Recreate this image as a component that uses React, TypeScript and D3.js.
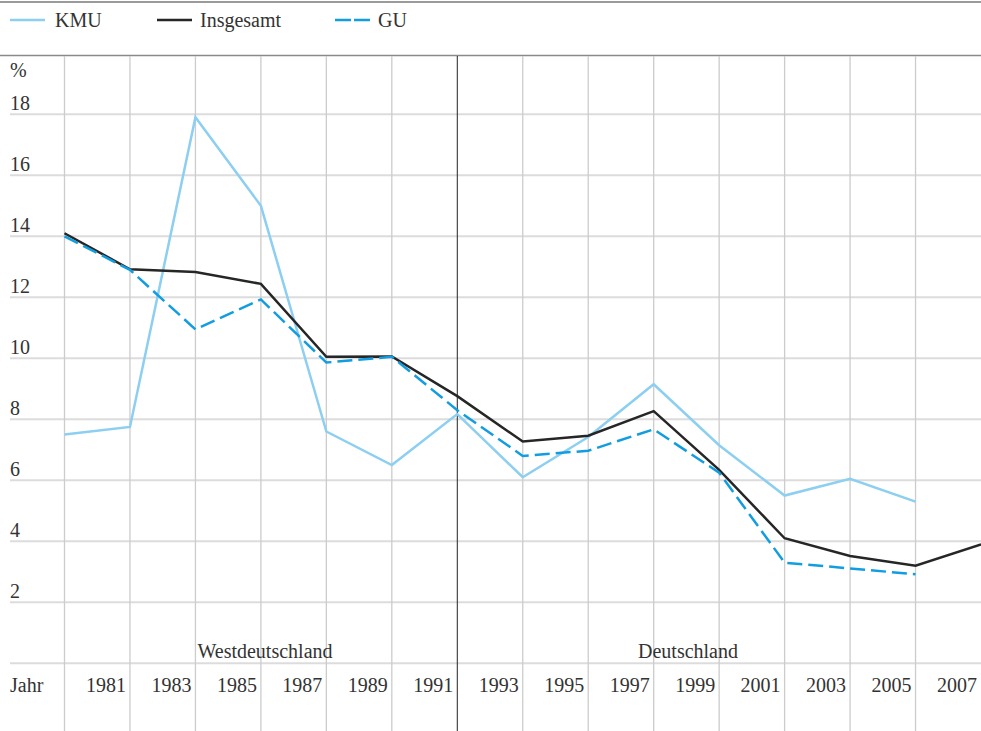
import React from "react";
import * as d3 from "d3";

const pointIndex = [0, 1, 2, 3, 4, 5, 6, 7, 8, 9, 10, 11, 12, 13, 14];
const yearLabels = ["1981", "1983", "1985", "1987", "1989", "1991", "1993", "1995", "1997", "1999", "2001", "2003", "2005", "2007"];
const yTicks = [2, 4, 6, 8, 10, 12, 14, 16, 18];
const kmu = [7.5, 7.75, 17.9, 15.0, 7.6, 6.5, 8.17, 6.1, 7.42, 9.15, 7.15, 5.5, 6.05, 5.3];
const insgesamt = [14.1, 12.92, 12.83, 12.44, 10.05, 10.06, 8.76, 7.27, 7.46, 8.27, 6.34, 4.1, 3.52, 3.2, 3.9];
const gu = [14.0, 12.9, 10.95, 11.93, 9.86, 10.05, 8.3, 6.8, 6.97, 7.67, 6.25, 3.3, 3.11, 2.92];
const regions = [
  { label: "Westdeutschland", center: 265 },
  { label: "Deutschland", center: 688 },
];

const W = 981;
const H = 731;
const FONT = "'Liberation Serif', 'Times New Roman', serif";
const FS = 20;
const C_KMU = "#8ccff0";
const C_INS = "#262626";
const C_GU = "#129de0";
const TXT = "#333";

export default function App() {
  const x = d3.scaleLinear().domain([0, 14]).range([64.5, 981]);
  const y = d3.scaleLinear().domain([0, 20]).range([663.3, 53.3]);
  const line = d3
    .line<number>()
    .x((_, i) => x(pointIndex[i]))
    .y((d) => y(d));

  return (
    <svg
      width={W}
      height={H}
      style={{ position: "absolute", left: 0, top: 0, background: "#fff" }}
      fontFamily={FONT}
    >
      <rect x={0} y={0} width={W} height={H} fill="#fff" />
      {/* top rules */}
      <line x1={0} x2={W} y1={2} y2={2} stroke="#7a7a7a" strokeWidth={1.5} />
      <line x1={0} x2={W} y1={55.5} y2={55.5} stroke="#8a8a8a" strokeWidth={1.5} />

      {/* legend */}
      <g fontSize={FS} fill={TXT}>
        <line x1={10} x2={45} y1={20} y2={20} stroke={C_KMU} strokeWidth={2.5} />
        <text x={55} y={27}>KMU</text>
        <line x1={157} x2={192} y1={20} y2={20} stroke={C_INS} strokeWidth={2.5} />
        <text x={200} y={27}>Insgesamt</text>
        <line x1={335} x2={370} y1={20} y2={20} stroke={C_GU} strokeWidth={2.5} strokeDasharray="16 3" />
        <text x={378} y={27}>GU</text>
      </g>

      {/* horizontal gridlines */}
      {[0, ...yTicks].map((t) => (
        <line key={"h" + t} x1={10} x2={W} y1={y(t)} y2={y(t)} stroke="#dcdcdc" strokeWidth={2} />
      ))}
      {/* vertical gridlines */}
      {pointIndex.slice(0, 14).map((i) => (
        <line
          key={"v" + i}
          x1={x(i)}
          x2={x(i)}
          y1={56}
          y2={H}
          stroke={i === 6 ? "#222" : "#cccccc"}
          strokeWidth={i === 6 ? 1 : 1.3}
        />
      ))}

      {/* y labels */}
      <g fontSize={FS} fill={TXT}>
        <text x={10} y={77}>%</text>
        {yTicks.map((t) => (
          <text key={"yl" + t} x={10} y={y(t) - 4}>
            {t}
          </text>
        ))}
      </g>

      {/* region labels */}
      <g fontSize={FS} fill={TXT} textAnchor="middle">
        {regions.map((r) => (
          <text key={r.label} x={r.center} y={658}>
            {r.label}
          </text>
        ))}
      </g>

      {/* x labels */}
      <g fontSize={FS} fill={TXT}>
        <text x={10} y={692}>Jahr</text>
        {yearLabels.map((l, i) => (
          <text key={l} x={x(i + 1) - 4} y={692} textAnchor="end">
            {l}
          </text>
        ))}
      </g>

      {/* series */}
      <path d={line(kmu) || ""} fill="none" stroke={C_KMU} strokeWidth={2.5} />
      <path d={line(insgesamt) || ""} fill="none" stroke={C_INS} strokeWidth={2.5} />
      <path d={line(gu) || ""} fill="none" stroke={C_GU} strokeWidth={2.5} strokeDasharray="15 6" />
    </svg>
  );
}
